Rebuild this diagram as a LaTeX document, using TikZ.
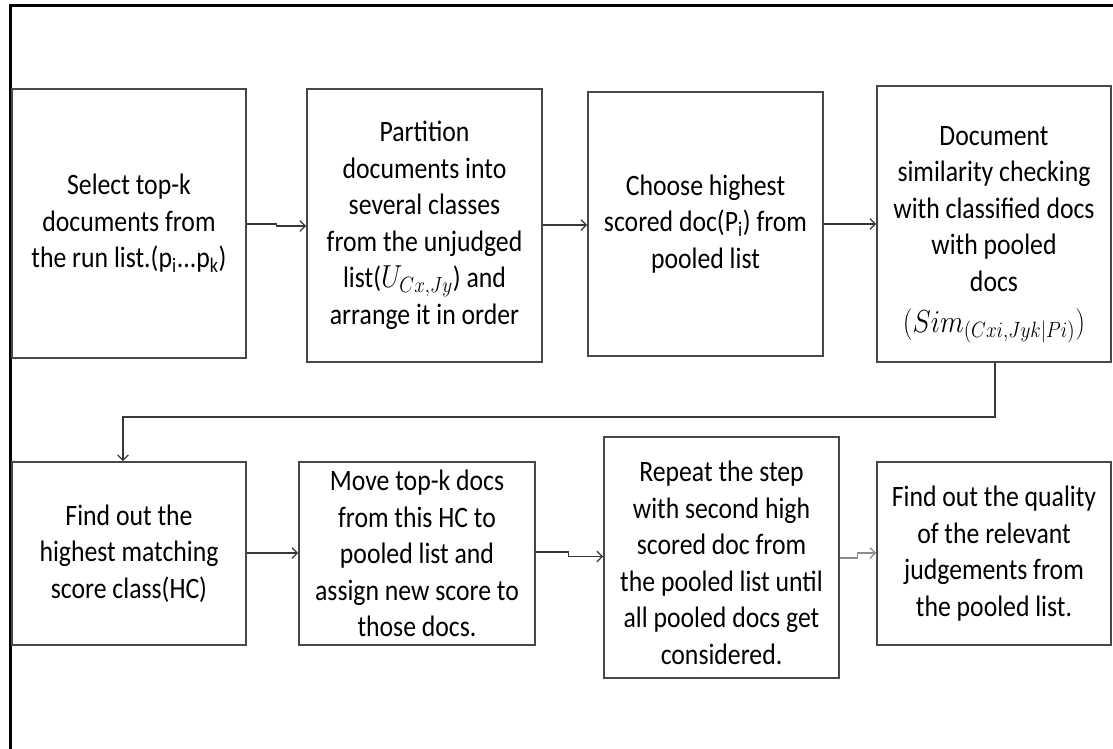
\documentclass[tikz,border=0pt]{standalone}
\usepackage{fontspec}
\setmainfont{Carlito}
\usetikzlibrary{arrows.meta,fit}
\begin{document}
\begin{tikzpicture}[x=0.75pt,y=-0.75pt,
  box/.style={draw=black!72, line width=1.3pt, inner sep=0pt},
  lbl/.style={inner sep=0pt, align=center, yscale=1.15, transform shape,
    font=\fontsize{19.3}{23.8}\selectfont},
  arr/.style={draw=black!78, line width=0.9pt, -{Straight Barb[length=4pt,width=8pt]}},
  lightarr/.style={arr, draw=black!45},
  frameline/.style={line width=1.8pt, black}]
\useasboundingbox (0,0) rectangle (1113,749);

% open outer frame (top and left edges)
\draw[frameline] (1113,5.5) -- (10.5,5.5) -- (10.5,749);

% boxes, upper row
\node[box, fit={(12,89) (246,358)}] (b1) {};
\node[box, fit={(307,89) (542,362)}] (b2) {};
\node[box, fit={(588,92) (823,356)}] (b3) {};
\node[box, fit={(877,86) (1111,362)}] (b4) {};
% boxes, lower row
\node[box, fit={(12,462) (246,645)}] (b5) {};
\node[box, fit={(299,462) (535,645)}] (b6) {};
\node[box, fit={(604,437) (839,678)}] (b7) {};
\node[box, fit={(877,462) (1111,645)}] (b8) {};

% box texts
\node[lbl] (t1) at (b1.center)
  {Select top-k\\documents from\\the run list.(p\textsubscript{i}...p\textsubscript{k})};
\node[lbl] (t2) at (b2.center)
  {Partition\\documents into\\several classes\\from the unjudged\\list($U_{Cx,Jy}$) and\\arrange it in order};
\node[lbl] (t3) at (b3.center)
  {Choose highest\\scored doc(P\textsubscript{i}) from\\pooled list};
\node[lbl] (t4) at ([yshift=-8pt]b4.center)
  {Document\\similarity checking\\with classified docs\\with pooled\\docs\\[3pt]$\biggl(Sim_{(Cxi,Jyk|Pi)}\biggr)$};
\node[lbl] (t5) at (b5.center)
  {Find out the\\highest matching\\score class(HC)};
\node[lbl] (t6) at (b6.center)
  {Move top-k docs\\from this HC to\\pooled list and\\assign new score to\\those docs.};
\node[lbl] (t7) at ([yshift=-4pt]b7.center)
  {Repeat the step\\with second high\\scored doc from\\the pooled list until\\all pooled docs get\\considered.};
\node[lbl] (t8) at (b8.center)
  {Find out the quality\\of the relevant\\judgements from\\the pooled list.};

% connectors
\draw[arr] (b1.east |- 0,224) -- ++(30,0) -- ++(0,2) -- (b2.west |- 0,226);
\draw[arr] (b2.east |- 0,225) -- (b3.west |- 0,225);
\draw[arr] (b3.east |- 0,224) -- (b4.west |- 0,224);

\coordinate (fbx) at (995,0);
\coordinate (fb) at (123,417);
\draw[arr] (b4.south -| fbx) |- (fb) -- (fb |- b5.north);

\draw[arr] (b5.east |- 0,553) -- (b6.west |- 0,553);
\draw[arr] (b6.east |- 0,552) -- ++(33,0) -- ++(0,4.5) -- (b7.west |- 0,556.5);
\draw[lightarr] (b7.east |- 0,558) -- ++(18,0) -- ++(0,-5) -- (b8.west |- 0,553);
\end{tikzpicture}
\end{document}
